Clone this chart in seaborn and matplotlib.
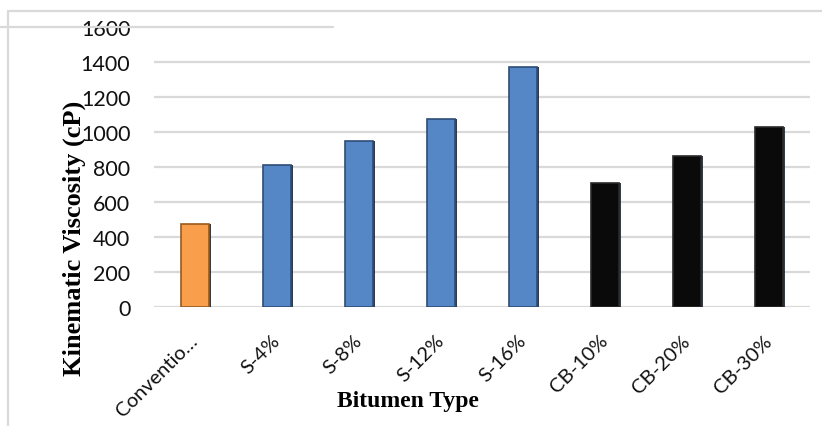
import matplotlib
matplotlib.use("Agg")
import matplotlib.pyplot as plt
import matplotlib.patheffects as pe
from matplotlib.lines import Line2D
import seaborn as sns
import pandas as pd

# Viscosity results per bitumen type
bitumen_types = ["Conventio\u2026", "S-4%", "S-8%", "S-12%", "S-16%", "CB-10%", "CB-20%", "CB-30%"]
viscosity_cp = [475, 810, 950, 1075, 1370, 710, 860, 1030]
bar_colors = ["#F99E4B", "#5586C6", "#5586C6", "#5586C6", "#5586C6", "#0A0A0A", "#0A0A0A", "#0A0A0A"]
edge_colors = ["#9A5A1E", "#2E4D78", "#2E4D78", "#2E4D78", "#2E4D78", "#2A2A2A", "#2A2A2A", "#2A2A2A"]
y_ticks = [0, 200, 400, 600, 800, 1000, 1200, 1400, 1600]

df = pd.DataFrame({"type": bitumen_types, "cp": viscosity_cp})

sns.set_theme(style="white")
plt.rcParams["font.family"] = ["Lato", "DejaVu Sans"]

fig = plt.figure(figsize=(8.22, 4.27), dpi=100)
W, H = 822, 427
ax = fig.add_axes([154 / W, 1 - 308 / H, 656 / W, 280 / H])

sns.barplot(data=df, x="type", y="cp", hue="type", palette=bar_colors,
            saturation=1, width=0.33, legend=False, ax=ax, zorder=3)

for patch, ec in zip(ax.patches, edge_colors):
    patch.set_edgecolor(ec)
    patch.set_linewidth(1.2)
    patch.set_path_effects([
        pe.SimplePatchShadow(offset=(1.8, 0), shadow_rgbFace="#111a26", alpha=0.85),
        pe.Normal(),
    ])

ax.set_xlim(-0.5, len(bitumen_types) - 0.5)
ax.set_ylim(0, 1600)
ax.set_yticks(y_ticks)
ax.set_yticklabels([str(v) for v in y_ticks])

# horizontal gridlines up to 1400; the 1600 line is drawn separately below
for v in y_ticks[:-1]:
    ax.axhline(v, color="#D9D9D9", lw=1.6, zorder=1, xmax=1.0043)

for s in ax.spines.values():
    s.set_visible(False)

ax.tick_params(axis="y", length=0, pad=17, labelsize=15.5, labelcolor="#111111")
ax.tick_params(axis="x", length=0, pad=22, labelsize=14.5, labelcolor="#111111")
for lbl in ax.get_xticklabels():
    lbl.set_rotation(45)
    lbl.set_ha("right")
    lbl.set_va("center")
    lbl.set_rotation_mode("anchor")

ax.set_ylabel("Kinematic Viscosity (cP)", fontsize=19, fontweight="bold",
              family="Liberation Serif", color="#000000")
ax.yaxis.set_label_coords(-0.122, 0.25)
ax.yaxis.label.set_va("center")
ax.set_xlabel("Bitumen Type", fontsize=17, fontweight="bold",
              family="Liberation Serif", color="#000000")
ax.xaxis.set_label_coords(0.3875, -0.335)
ax.xaxis.label.set_va("center")

# outer frame and the top reference line
fig.add_artist(Line2D([8 / W, 1.0], [1 - 12 / H, 1 - 12 / H], color="#D9D9D9", lw=1.6))
fig.add_artist(Line2D([8 / W, 8 / W], [0, 1 - 12 / H], color="#D9D9D9", lw=1.6))
fig.add_artist(Line2D([0, 333 / W], [1 - 28 / H, 1 - 28 / H], color="#D9D9D9", lw=1.6))

fig.savefig("out.png", dpi=100, facecolor="white")
